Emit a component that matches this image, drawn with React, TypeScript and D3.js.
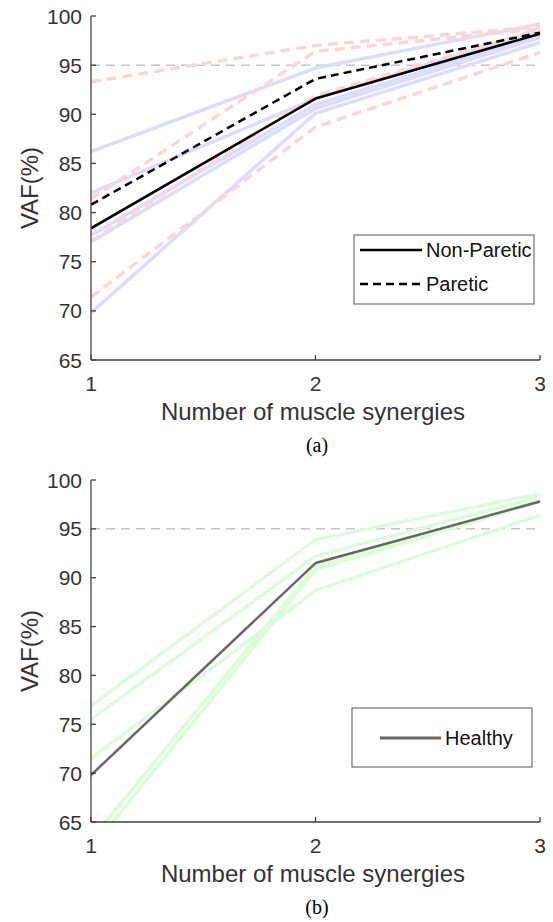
import React from "react";
import * as d3 from "d3";

// ---- data ----
const synergies = [1, 2, 3];
const yTicks = [65, 70, 75, 80, 85, 90, 95, 100];
const threshold = 95;

const nonPareticSubjects = [
  [86.2, 94.7, 99.2],
  [82.0, 91.6, 98.6],
  [77.7, 91.0, 98.0],
  [77.0, 90.6, 97.8],
  [69.8, 90.1, 97.3],
];
const pareticSubjects = [
  [93.3, 97.0, 98.9],
  [81.4, 96.4, 98.7],
  [77.1, 91.9, 98.6],
  [71.4, 88.7, 96.3],
];
const nonPareticMean = [78.4, 91.6, 98.2];
const pareticMean = [80.8, 93.6, 98.3];

const healthySubjects = [
  [76.9, 93.9, 98.6],
  [75.5, 92.2, 98.3],
  [71.5, 88.7, 96.4],
  [63.2, 91.2, 97.9],
  [62.2, 90.8, 97.8],
];
const healthyMean = [69.8, 91.5, 97.8];

const W = 553;
const H = 922;
const FONT = "'Liberation Sans', Arial, sans-serif";
const AXIS = "#404040";

type Series = { values: number[]; color: string; width: number; dash?: string };

function Panel({
  top,
  bottom,
  series,
  legend,
  caption,
  legendBox,
}: {
  top: number;
  bottom: number;
  series: Series[];
  legend: { label: string; color: string; width: number; dash?: string }[];
  caption: string;
  legendBox: { x: number; y: number; w: number; h: number; lx0: number; lx1: number; rowY: number[] };
}) {
  const x = d3.scaleLinear().domain([1, 3]).range([91, 540]);
  const y = d3.scaleLinear().domain([65, 100]).range([bottom, top]);
  const line = d3
    .line<number>()
    .x((_, i) => x(synergies[i]))
    .y((d) => y(d));
  const clipId = "clip" + Math.round(top);
  return (
    <g>
      <defs>
        <clipPath id={clipId}>
          <rect x={x(1)} y={y(100) - 4} width={x(3) - x(1) + 4} height={y(65) - y(100) + 4} />
        </clipPath>
      </defs>
      {/* threshold */}
      <line
        x1={x(1)}
        x2={x(3)}
        y1={y(threshold)}
        y2={y(threshold)}
        stroke="#c4c4c4"
        strokeWidth={1.5}
        strokeDasharray="9,6"
      />
      <g clipPath={`url(#${clipId})`}>
        {series.map((s, i) => (
          <path
            key={i}
            d={line(s.values) || ""}
            fill="none"
            stroke={s.color}
            strokeWidth={s.width}
            strokeDasharray={s.dash}
            strokeLinejoin="round"
          />
        ))}
      </g>
      {/* axes */}
      <line x1={x(1)} x2={x(1)} y1={y(100)} y2={y(65)} stroke={AXIS} strokeWidth={1.3} />
      <line x1={x(1)} x2={x(3)} y1={y(65)} y2={y(65)} stroke={AXIS} strokeWidth={1.3} />
      {yTicks.map((t) => (
        <g key={t}>
          <line x1={x(1)} x2={x(1) + 5} y1={y(t)} y2={y(t)} stroke={AXIS} strokeWidth={1.3} />
          <text
            x={x(1) - 9}
            y={y(t)}
            dy="0.36em"
            textAnchor="end"
            fontFamily={FONT}
            fontSize={21}
            fill="#333"
          >
            {t}
          </text>
        </g>
      ))}
      {synergies.map((t) => (
        <g key={t}>
          <line x1={x(t)} x2={x(t)} y1={y(65)} y2={y(65) - 5} stroke={AXIS} strokeWidth={1.3} />
          <text
            x={x(t)}
            y={y(65) + 31}
            textAnchor="middle"
            fontFamily={FONT}
            fontSize={21}
            fill="#333"
          >
            {t}
          </text>
        </g>
      ))}
      <text
        x={313}
        y={y(65) + 60}
        textAnchor="middle"
        fontFamily={FONT}
        fontSize={24}
        fill="#333"
      >
        Number of muscle synergies
      </text>
      <text
        transform={`translate(38,${(y(100) + y(65)) / 2}) rotate(-90)`}
        textAnchor="middle"
        fontFamily={FONT}
        fontSize={24}
        fill="#333"
      >
        VAF(%)
      </text>
      <text
        x={317}
        y={y(65) + 92}
        textAnchor="middle"
        fontFamily="'Liberation Serif', 'Times New Roman', serif"
        fontSize={20}
        fill="#000"
      >
        {caption}
      </text>
      {/* legend */}
      <rect
        x={legendBox.x}
        y={legendBox.y}
        width={legendBox.w}
        height={legendBox.h}
        fill="#fff"
        stroke="#555"
        strokeWidth={1}
      />
      {legend.map((l, i) => (
        <g key={l.label}>
          <line
            x1={legendBox.lx0}
            x2={legendBox.lx1}
            y1={legendBox.rowY[i]}
            y2={legendBox.rowY[i]}
            stroke={l.color}
            strokeWidth={l.width}
            strokeDasharray={l.dash}
          />
          <text
            x={legendBox.lx1 + 4}
            y={legendBox.rowY[i]}
            dy="0.36em"
            fontFamily={FONT}
            fontSize={20}
            fill="#111"
          >
            {l.label}
          </text>
        </g>
      ))}
    </g>
  );
}

export default function App() {
  const BLUE = "#dcdcfc";
  const PINK = "#fcd6d6";
  const GREEN = "#dcfcdc";
  const topSeries: Series[] = [
    ...nonPareticSubjects.map((v) => ({ values: v, color: BLUE, width: 3.5 })),
    ...pareticSubjects.map((v) => ({ values: v, color: PINK, width: 3.5, dash: "10,6" })),
    { values: nonPareticMean, color: "#000", width: 2.5 },
    { values: pareticMean, color: "#000", width: 2.5, dash: "8,5" },
  ];
  const botSeries: Series[] = [
    ...healthySubjects.map((v) => ({ values: v, color: GREEN, width: 3.5 })),
    { values: healthyMean, color: "#6b6666", width: 2.5 },
  ];
  return (
    <svg
      width={W}
      height={H}
      style={{ position: "absolute", left: 0, top: 0, background: "#fff" }}
    >
      <rect width={W} height={H} fill="#fff" />
      <Panel
        top={16}
        bottom={360}
        series={topSeries}
        caption="(a)"
        legend={[
          { label: "Non-Paretic", color: "#000", width: 2.5 },
          { label: "Paretic", color: "#000", width: 2.5, dash: "8,5" },
        ]}
        legendBox={{ x: 354, y: 235, w: 180, h: 69, lx0: 360, lx1: 422, rowY: [250, 284] }}
      />
      <Panel
        top={480}
        bottom={822}
        series={botSeries}
        caption="(b)"
        legend={[{ label: "Healthy", color: "#6b6666", width: 3 }]}
        legendBox={{ x: 352, y: 708, w: 180, h: 59, lx0: 380, lx1: 441, rowY: [738] }}
      />
    </svg>
  );
}
